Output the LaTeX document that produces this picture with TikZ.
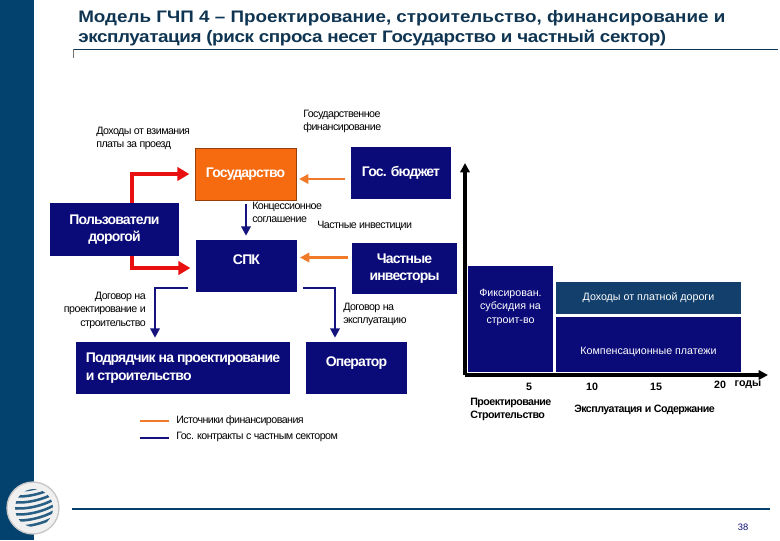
\documentclass[tikz,border=0pt]{standalone}
\usepackage{fontspec}
\setmainfont{Liberation Sans}
\newfontfamily\tightfont[LetterSpace=-5]{Liberation Sans}
\newfontfamily\boxfont[LetterSpace=-6]{Liberation Sans}
\newfontfamily\titlefont[FakeStretch=1.13]{Liberation Sans}
\newfontfamily\titletight[FakeStretch=1.13,LetterSpace=-2.4]{Liberation Sans}
\usetikzlibrary{arrows.meta,
                positioning}
\definecolor{navybox}{HTML}{0A0A78}
\definecolor{bandblue}{HTML}{03426E}
\definecolor{revenue}{HTML}{123F6B}
\definecolor{orangebox}{HTML}{F66A10}
\definecolor{titleblue}{HTML}{0F3552}
\definecolor{redflow}{HTML}{E81010}
\definecolor{orangeflow}{HTML}{F07A28}
\definecolor{blueflow}{HTML}{14147C}
\tikzset{
  box/.style={fill=navybox,text=white,inner sep=0pt,font=\fontsize{10.5}{13}\boxfont\bfseries,align=center},
  chartbox/.style={box,font=\fontsize{8}{10}\selectfont},
  label/.style={inner sep=0pt,font=\fontsize{8}{10}\tightfont,align=left},
  phase/.style={label,font=\fontsize{8}{10}\tightfont\bfseries},
  tick/.style={inner sep=0pt,font=\fontsize{8}{10}\selectfont\bfseries},
  redline/.style={redflow,line width=3pt,-{Triangle[length=9pt,width=10pt]},shorten >=4pt},
  orangeline/.style={orangeflow,line width=1.6pt,-{Triangle[length=7pt,width=7pt]},shorten >=2pt},
  blueline/.style={blueflow,line width=1.6pt,-{Triangle[length=7pt,width=7pt]},shorten >=3pt},
  axisline/.style={black,line width=2.4pt,-{Triangle[length=7pt,width=7pt]}},
}
\begin{document}
\begin{tikzpicture}[x=0.75pt,y=-0.75pt]
 \useasboundingbox (0,0) rectangle (780,540);
 % band and logo
 \fill[bandblue] (0,0) rectangle (34,540);
 \node[circle,minimum size=39pt,inner sep=0pt,fill=white!94!black,draw=black!22,line width=1pt] (logo) at (33,508) {};
 \begin{scope}
  \clip (34,508) circle (19);
  \foreach \dy in {-18,-12,...,24}
   \draw[bandblue!85,line width=1.9pt] (12,508+\dy) .. controls (24,508+\dy+2) and (44,508+\dy-2) .. (56,508+\dy-10);
 \end{scope}
 % title
 \node[anchor=north west,inner sep=0pt,text=titleblue,font=\fontsize{12.5}{15}\titlefont\bfseries,align=left] (title) at (78,10)
   {Модель ГЧП 4 – Проектирование, строительство, финансирование и\\{\titletight\bfseries эксплуатация (риск спроса несет Государство и частный сектор)}};
 \coordinate (ruleleft) at (73,49);
 \coordinate (ruleright) at (778,49);
 \draw[titleblue,line width=0.6pt] (ruleright) -- (ruleleft);
 \draw[black!55,line width=0.6pt] (ruleleft) -- (73,58);
 % boxes
 \node[box,fill=orangebox,minimum width=75.75pt,minimum height=39pt,draw=black!40!orangebox,line width=0.5pt] (state) at (245.5,174) {Государство};
 \node[box,minimum width=75pt,minimum height=39pt] (budget) at (401,173) {Гос. бюджет};
 \node[box,minimum width=96.75pt,minimum height=39.75pt] (users) at (114.5,229.5) {Пользователи\\дорогой};
 \node[box,minimum width=75.75pt,minimum height=39pt,text depth=9pt] (spk) at (246.5,266) {СПК};
 \node[box,minimum width=78.75pt,minimum height=38.25pt] (investors) at (404.5,268.5) {\vspace*{4pt}Частные\\инвесторы};
 \node[box,minimum width=160.5pt,minimum height=39pt,align=left] (contractor) at (183,368) {\vspace*{4pt}Подрядчик на проектирование\\и строительство};
 \node[box,minimum width=75.75pt,minimum height=39pt,text depth=9pt] (operator) at (356.5,368) {Оператор};
 % connectors
 \draw[redline] ([xshift=13pt]users.north) |- (state.west);
 \draw[redline] ([xshift=13pt]users.south) |- ([yshift=-1.5pt]spk.west);
 \draw[orangeline] (budget.west) ++(-6,6) coordinate (budgetout) (budgetout) -- (budgetout -| state.east);
 \draw[orangeline] (investors.west) ++(-4,-11) coordinate (investorsout) (investorsout) -- (investorsout -| spk.east);
 \draw[blueline] (state.south) ++(0.5,4) coordinate (stateout) (stateout) -- (stateout |- spk.north);
 \coordinate (spkleft) at (188,288);
 \coordinate (spkright) at (303,288);
 \draw[blueline] (spkleft) -| (contractor.north -| 155,0);
 \draw[blueline] (spkright) -| (operator.north -| 335,0);
 % labels
 \node[label,anchor=north west] (tolls) at (96,127) {Доходы от взимания\\платы за проезд};
 \node[label,anchor=north west] (fundlabel) at (303,110) {Государственное\\финансирование};
 \node[label,anchor=north west] (concession) at (252,202) {Концессионное\\соглашение};
 \node[label,anchor=north west] (privatelabel) at (317,221) {Частные инвестиции};
 \node[label,anchor=north east,align=right] (buildlabel) at (146,292) {Договор на\\проектирование и\\строительство};
 \node[label,anchor=north west] (oplabel) at (343,303) {Договор на\\эксплуатацию};
 % legend
 \coordinate (legendone) at (140,421);
 \coordinate (legendtwo) at (140,438);
 \draw[orangeflow,line width=2pt] (legendone) -- ++(29,0);
 \draw[blueflow,line width=2pt] (legendtwo) -- ++(29,0);
 \node[label,anchor=west] (sources) at (176,421) {Источники финансирования};
 \node[label,anchor=west] (contracts) at (176,437) {Гос. контракты с частным сектором};
 % chart
 \coordinate (origin) at (465,375);
 \coordinate (ytop) at (465,163);
 \coordinate (xend) at (768,375);
 \draw[axisline] (origin) -- (ytop);
 \draw[axisline] (origin) -- (xend);
 \node[chartbox,minimum width=63.75pt,minimum height=79.5pt,text depth=19.5pt] (subsidy) at (510.5,319) {Фиксирован.\\субсидия на\\строит-во};
 \node[chartbox,fill=revenue,minimum width=138.75pt,minimum height=24pt] (tollincome) at (648.5,298) {Доходы от платной дороги};
 \node[chartbox,minimum width=138.75pt,minimum height=41.25pt,text height=17pt] (compensation) at (648.5,344.5) {Компенсационные платежи};
 \node[tick] (five) at (529,387) {5};
 \node[tick] (ten) at (592,387) {10};
 \node[tick] (fifteen) at (656,387) {15};
 \node[tick] (twenty) at (720,385) {20};
 \node[tick] (years) at (748,385) {годы};
 \node[phase,anchor=north west] (phaseone) at (470,398) {Проектирование\\Строительство};
 \node[phase,anchor=west] (phasetwo) at (574,410) {Эксплуатация и Содержание};
 % footer
 \coordinate (footleft) at (72,509);
 \coordinate (footright) at (770,509);
 \draw[bandblue,line width=1.2pt] (footleft) -- (footright);
 \node[inner sep=0pt,text=navybox,font=\fontsize{7}{8}\selectfont] (page) at (743,527) {38};
\end{tikzpicture}
\end{document}
